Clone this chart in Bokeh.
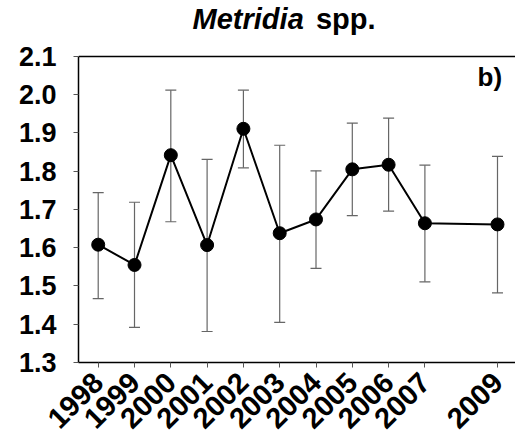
import math
from bokeh.plotting import figure
from bokeh.models import (ColumnDataSource, Whisker, FixedTicker, LinearAxis,
                          Range1d, Label, NumeralTickFormatter, TeeHead)
from bokeh.embed import file_html
from bokeh.resources import INLINE

years = [1998, 1999, 2000, 2001, 2002, 2003, 2004, 2005, 2006, 2007, 2009]
means = [1.608, 1.555, 1.842, 1.607, 1.911, 1.638, 1.674, 1.805, 1.817, 1.664, 1.661]
upper = [1.744, 1.719, 2.012, 1.831, 2.012, 1.868, 1.801, 1.926, 1.939, 1.816, 1.839]
lower = [1.467, 1.392, 1.668, 1.381, 1.809, 1.405, 1.546, 1.684, 1.696, 1.511, 1.482]
y_ticks = [1.3, 1.4, 1.5, 1.6, 1.7, 1.8, 1.9, 2.0, 2.1]
y_min, y_max = 1.3, 2.1

src = ColumnDataSource(dict(x=years, y=means, upper=upper, lower=lower))

p = figure(width=515, height=448, output_backend="svg", toolbar_location=None,
           x_range=Range1d(1997.457, 2009.496), y_range=Range1d(y_min, 2.2464),
           min_border_left=78, min_border_right=0, min_border_top=0,
           min_border_bottom=86, x_axis_type=None, y_axis_type=None)
p.background_fill_color = "white"
p.border_fill_color = "white"
p.outline_line_color = None
p.xgrid.visible = False
p.ygrid.visible = False

FONT = "Liberation Sans"

xa = LinearAxis(ticker=FixedTicker(ticks=years))
xa.axis_line_color = "black"
xa.axis_line_width = 1.5
xa.major_tick_line_color = "#555555"
xa.major_tick_in = 0
xa.major_tick_out = 5
xa.minor_tick_line_color = None
xa.major_label_orientation = math.pi / 4
xa.major_label_text_font = FONT
xa.major_label_text_font_style = "bold"
xa.major_label_text_font_size = "29px"
xa.major_label_text_color = "black"
xa.major_label_standoff = 10
p.add_layout(xa, "below")

ya = LinearAxis(ticker=FixedTicker(ticks=y_ticks), bounds=(y_min, y_max),
                formatter=NumeralTickFormatter(format="0.0"))
ya.axis_line_color = "black"
ya.axis_line_width = 1.5
ya.major_tick_line_color = "#555555"
ya.major_tick_in = 0
ya.major_tick_out = 5
ya.minor_tick_line_color = None
ya.major_label_text_font = FONT
ya.major_label_text_font_style = "bold"
ya.major_label_text_font_size = "27px"
ya.major_label_text_color = "black"
ya.major_label_standoff = 17
p.add_layout(ya, "left")

# top frame line at the upper end of the value axis
p.hspan(y=[y_max], line_color="black", line_width=1.5)

w = Whisker(source=src, base="x", upper="upper", lower="lower",
            line_color="#666666", line_width=1.2,
            upper_head=TeeHead(size=11, line_color="#666666", line_width=1.2),
            lower_head=TeeHead(size=11, line_color="#666666", line_width=1.2))
p.add_layout(w)

p.line("x", "y", source=src, line_color="black", line_width=2)
p.scatter("x", "y", source=src, size=13, fill_color="black", line_color="black")

t1 = Label(x=2000.6, y=2.1993, text="Metridia", text_font=FONT,
           text_font_style="bold italic", text_font_size="29px",
           text_align="left", text_baseline="alphabetic", text_color="black")
t2 = Label(x=2005.64, y=2.1993, text="spp.", text_font=FONT,
           text_font_style="bold", text_font_size="29px",
           text_align="right", text_baseline="alphabetic", text_color="black")
t3 = Label(x=2008.45, y=2.0847, text="b)", text_font=FONT,
           text_font_style="bold", text_font_size="26px",
           text_align="left", text_baseline="top", text_color="black")
p.add_layout(t1)
p.add_layout(t2)
p.add_layout(t3)

open("out.html", "w").write(file_html(p, INLINE))
